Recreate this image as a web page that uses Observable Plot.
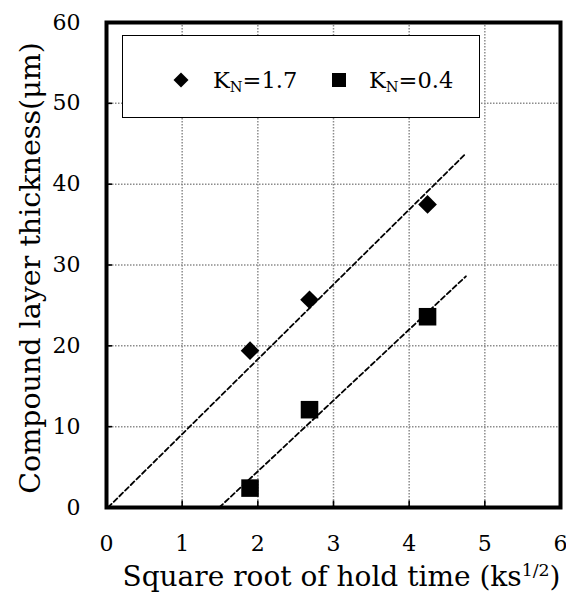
<!DOCTYPE html>
<html><head><meta charset="utf-8">
<script src="https://cdn.jsdelivr.net/npm/d3@7"></script>
<script src="https://cdn.jsdelivr.net/npm/@observablehq/plot@0.6"></script>
<style>
body{margin:0;background:#fff;}
#wrap{position:relative;width:566px;height:593px;font-family:"DejaVu Serif",serif;}
#legend{position:absolute;left:122px;top:35px;width:356px;height:81px;border:1.6px solid #000;background:#fff;}
#legend svg{position:absolute;}
#legend .lab{position:absolute;font-size:22.5px;line-height:1;white-space:nowrap;}
#legend sub{font-size:65%;vertical-align:-0.25em;line-height:0;}
</style>
</head><body><div id="wrap"></div>
<script>
// ---- data ----
const xTicks = [0, 1, 2, 3, 4, 5, 6];
const yTicks = [0, 10, 20, 30, 40, 50, 60];
const holdTime = [1.897, 2.683, 4.243];
const thicknessKN17 = [19.4, 25.7, 37.5];
const thicknessKN04 = [2.4, 12.1, 23.6];
const fitKN17X = [0.02, 4.75];
const fitKN17Y = [0, 43.8];
const fitKN04X = [1.49, 4.75];
const fitKN04Y = [0, 28.6];
const seriesMain = ["K", "K"];
const seriesSub = ["N", "N"];
const seriesValue = ["=1.7", "=0.4"];
const xLabelMain = "Square root of hold time (ks";
const xLabelSup = "1/2";
const xLabelEnd = ")";
const yLabel = "Compound layer thickness(μm)";

const kn17 = holdTime.map((x, i) => ({x, y: thicknessKN17[i]}));
const kn04 = holdTime.map((x, i) => ({x, y: thicknessKN04[i]}));
const fit17 = fitKN17X.map((x, i) => ({x, y: fitKN17Y[i]}));
const fit04 = fitKN04X.map((x, i) => ({x, y: fitKN04Y[i]}));
const xLabelFull = xLabelMain + xLabelSup + xLabelEnd;

const grid = {stroke: "#8c8c8c", strokeOpacity: 1, strokeDasharray: "1.5,1.5", strokeWidth: 1.5};

const chart = Plot.plot({
  width: 566, height: 593,
  marginLeft: 106, marginRight: 6, marginTop: 22, marginBottom: 86,
  style: {fontFamily: "DejaVu Serif", background: "white", color: "black", overflow: "visible"},
  x: {domain: [0, 6]},
  y: {domain: [0, 60]},
  marks: [
    Plot.gridX(xTicks.filter(d => d > 0 && d < 6), grid),
    Plot.gridY(yTicks.filter(d => d > 0 && d < 60), grid),
    Plot.ruleX(xTicks, {x: d => d, y1: 0, y2: 0.8, stroke: "black", strokeWidth: 1.6}),
    Plot.ruleY(yTicks, {y: d => d, x1: 0, x2: 0.08, stroke: "black", strokeWidth: 1.6}),
    Plot.axisX(xTicks, {tickSize: 0, tickPadding: 28, fontSize: 22, label: null}),
    Plot.axisY(yTicks, {tickSize: 0, tickPadding: 26, fontSize: 22, label: null}),
    Plot.line(fit17, {x: "x", y: "y", stroke: "black", strokeWidth: 1.8, strokeDasharray: "5,3"}),
    Plot.line(fit04, {x: "x", y: "y", stroke: "black", strokeWidth: 1.8, strokeDasharray: "5,3"}),
    Plot.dot(kn17, {x: "x", y: "y", symbol: "diamond2", r: 8.4, fill: "black", stroke: null}),
    Plot.dot(kn04, {x: "x", y: "y", symbol: "square", r: 9.9, fill: "black", stroke: null}),
    Plot.frame({stroke: "black", strokeWidth: 4}),
    Plot.text([xLabelFull], {frameAnchor: "bottom", dy: 70, fontSize: 28, fill: "black", textAnchor: "middle", lineAnchor: "middle", dx: 8}),
    Plot.text([yLabel], {frameAnchor: "left", dx: -76, dy: 3, rotate: -90, fontSize: 28.5, fill: "black", textAnchor: "middle", lineAnchor: "middle"})
  ]
});

// superscript in x label
chart.querySelectorAll("text").forEach(t => {
  if (t.textContent === xLabelFull) {
    t.textContent = "";
    const ns = "http://www.w3.org/2000/svg";
    const a = document.createElementNS(ns, "tspan"); a.textContent = xLabelMain;
    const b = document.createElementNS(ns, "tspan"); b.textContent = xLabelSup;
    b.setAttribute("baseline-shift", "super"); b.setAttribute("font-size", "62%");
    const c = document.createElementNS(ns, "tspan"); c.textContent = xLabelEnd;
    t.append(a, b, c);
  }
});

const wrap = document.getElementById("wrap");
wrap.appendChild(chart);

// legend overlay
const legend = document.createElement("div");
legend.id = "legend";
const symX = [58, 216];
const labX = [90, 246];
const symbols = ["diamond", "square"];
symbols.forEach((s, i) => {
  const svg = document.createElementNS("http://www.w3.org/2000/svg", "svg");
  svg.setAttribute("width", 18); svg.setAttribute("height", 18);
  svg.style.left = (symX[i] - 9) + "px"; svg.style.top = (44 - 9) + "px";
  if (s === "diamond") {
    svg.innerHTML = '<path d="M9,1.5L16.5,9L9,16.5L1.5,9Z" fill="#000"/>';
  } else {
    svg.innerHTML = '<rect x="2" y="2" width="14" height="14" fill="#000"/>';
  }
  legend.appendChild(svg);
  const lab = document.createElement("div");
  lab.className = "lab";
  lab.style.left = labX[i] + "px"; lab.style.top = "33px";
  lab.innerHTML = seriesMain[i] + "<sub>" + seriesSub[i] + "</sub>" + seriesValue[i];
  legend.appendChild(lab);
});
wrap.appendChild(legend);
</script>
</body></html>
